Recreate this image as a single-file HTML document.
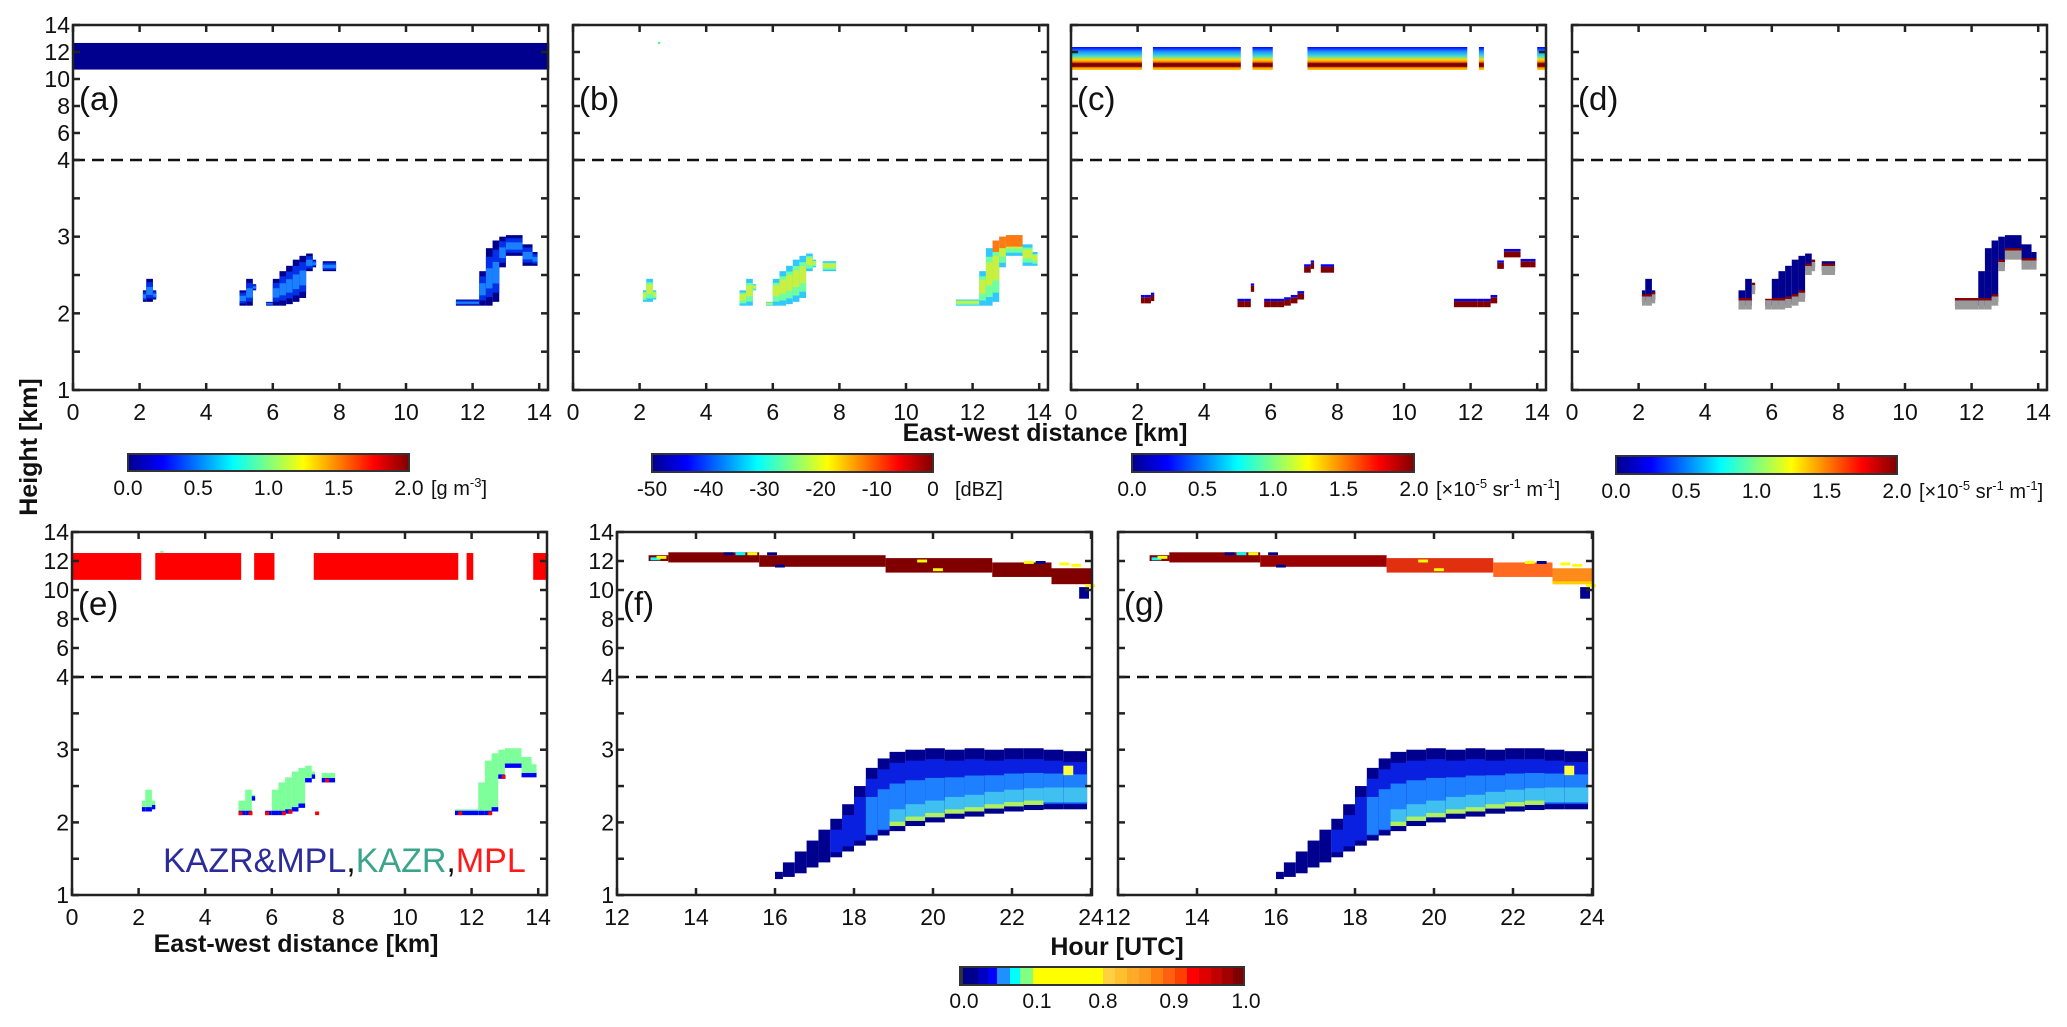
<!DOCTYPE html>
<html><head><meta charset="utf-8">
<style>
html,body{margin:0;padding:0;background:#fff;}
svg{display:block;font-family:"Liberation Sans",Arial,sans-serif;}
</style></head>
<body>
<svg id="fig" width="2067" height="1027" viewBox="0 0 2067 1027" xmlns="http://www.w3.org/2000/svg">
<defs>
<linearGradient id="jet" x1="0" x2="1" y1="0" y2="0">
<stop offset="0" stop-color="#00008f"/><stop offset="0.125" stop-color="#0000ff"/>
<stop offset="0.375" stop-color="#00ffff"/><stop offset="0.625" stop-color="#ffff00"/>
<stop offset="0.875" stop-color="#ff0000"/><stop offset="1" stop-color="#800000"/>
</linearGradient>
<linearGradient id="cband" x1="0" x2="0" y1="0" y2="1">
<stop offset="0" stop-color="#0000ff"/><stop offset="0.2" stop-color="#1e90ff"/>
<stop offset="0.4" stop-color="#40e0d0"/><stop offset="0.55" stop-color="#ffd700"/>
<stop offset="0.65" stop-color="#ff8000"/><stop offset="0.72" stop-color="#800000"/>
<stop offset="0.85" stop-color="#800000"/><stop offset="0.9" stop-color="#ff9000"/>
<stop offset="1" stop-color="#ffd000"/>
</linearGradient>
</defs>
<g id="root"></g>
</svg>
<script>
// ---------- data ----------
const upperTicks = [14, 12, 10, 8, 6, 4];
const lowerTicks = [3, 2, 1];
const lowerMinor = [3.5, 2.5, 1.5];
const kmTicks = [0, 2, 4, 6, 8, 10, 12, 14];
const hourTicks = [12, 14, 16, 18, 20, 22, 24];
// low cloud columns [xStart km, xEnd km, base km, top km]
const cloudX0 = [2.1,2.2,2.4, 5.0,5.2,5.4, 5.8,6.0,6.2,6.4,6.6,6.8,7.0,7.2, 7.5, 11.5,12.2,12.4,12.6,12.8,13.0,13.5,13.8];
const cloudX1 = [2.2,2.4,2.5, 5.2,5.4,5.5, 6.0,6.2,6.4,6.6,6.8,7.0,7.2,7.3, 7.9, 12.2,12.4,12.6,12.8,13.0,13.5,13.8,13.95];
const cloudBase = [2.15,2.15,2.18, 2.1,2.1,2.3, 2.1,2.1,2.1,2.12,2.15,2.2,2.55,2.6, 2.55, 2.1,2.1,2.1,2.15,2.6,2.75,2.62,2.62];
const cloudTop = [2.3,2.45,2.3, 2.3,2.45,2.38, 2.15,2.45,2.55,2.62,2.7,2.75,2.78,2.7, 2.68, 2.18,2.55,2.85,2.95,3.0,3.02,2.9,2.8];
// high cloud segments per panel [x0,x1] km, band heights km
const bandA = [[0, 14.3]];
const bandC = [[0,2.13],[2.46,5.1],[5.45,6.06],[7.1,7.3],[7.27,11.9],[12.25,12.4],[14.0,14.3]];
const bandE = [[0,2.08],[2.5,5.08],[5.47,6.08],[7.26,11.6],[11.85,12.05],[13.85,14.3]];
const bandBaseA = 10.7, bandTopA = 12.67;
const bandBaseC = 10.67, bandTopC = 12.37;
const bandBaseE = 10.7, bandTopE = 12.55;
const eRedX = [5.0,5.3,5.8,6.3,6.5,7.3,7.6,11.6,12.5,12.9];
// time-height low cloud [h0,h1,base,top]
const lowH0 = [16.0,16.2,16.5,16.8,17.1,17.4,17.7,18.0,18.3,18.6,18.9,19.3,19.8,20.3,20.8,21.3,21.8,22.3,22.8,23.3];
const lowH1 = [16.2,16.5,16.8,17.1,17.4,17.7,18.0,18.3,18.6,18.9,19.3,19.8,20.3,20.8,21.3,21.8,22.3,22.8,23.3,23.9];
const lowBase = [1.22,1.25,1.3,1.38,1.45,1.52,1.6,1.68,1.75,1.82,1.88,1.95,2.0,2.05,2.08,2.12,2.15,2.17,2.18,2.18];
const lowTop = [1.32,1.45,1.6,1.75,1.9,2.05,2.25,2.5,2.75,2.88,2.97,3.0,3.02,3.0,3.02,3.0,3.02,3.02,3.0,2.98];
// time-height ice cloud
const iceH0 = [12.8,13.3,15.6,18.8,21.5,23.0];
const iceH1 = [13.3,15.6,18.8,21.5,23.0,24.0];
const iceBase = [12.0,11.9,11.6,11.2,10.9,10.4];
const iceTop = [12.4,12.6,12.4,12.2,11.9,11.5];
const iceColorG = ['#8b0000','#8b0000','#9a0000','#e03010','#ff6a20','#ff8c1a'];
const specksH = [12.85,13.0,14.7,15.0,15.3,15.8,16.0,19.6,20.0,22.3,22.6,23.2,23.5,23.85];
const specksK = [12.25,12.35,12.6,12.6,12.6,12.6,11.75,12.1,11.5,12.0,12.0,11.9,11.8,10.4];
const specksC = ['#00ffff','#ffff00','#00008f','#00ffff','#ffff00','#00008f','#00008f','#ffff00','#ffff00','#ffff00','#00008f','#ffff00','#ffff00','#ffff00'];
// colorbar labels
const cbA = ['0.0','0.5','1.0','1.5','2.0'];
const cbB = ['-50','-40','-30','-20','-10','0'];
const cbF = ['0.0','0.1','0.8','0.9','1.0'];
const cbFColors = ['#333','#00008f','#0000c0','#0000ff','#1e90ff','#00ffff','#80ff80','#ffff00','#ffd040','#ffc030','#ffaa28','#ff9a20','#ff8010','#ff6010','#ff4000','#ff0000','#e00000','#c00000','#a00000','#800000'];
const cbFWidths = [3,15,10,9,13,10,13,70,12,12,12,12,12,12,12,12,12,11,11,11];

// ---------- helpers ----------
const NS = 'http://www.w3.org/2000/svg';
const root = document.getElementById('root');
function el(tag, attrs, parent) {
  const e = document.createElementNS(NS, tag);
  for (const k in attrs) e.setAttribute(k, attrs[k]);
  (parent || root).appendChild(e);
  return e;
}
function txt(s, x, y, size, anchor, parent, extra) {
  const t = el('text', Object.assign({x: x, y: y, 'font-size': size, 'text-anchor': anchor || 'middle', fill: '#111'}, extra || {}), parent);
  t.textContent = s;
  return t;
}

const ROW1 = {top: 25, y4: 160, bottom: 390, up: 13.5, lo: 76.67};
const ROW2 = {top: 532, y4: 677, bottom: 895, up: 14.5, lo: 72.7};
function yScale(row, km) {
  return km >= 4 ? row.top + (14 - km) * row.up : row.y4 + (4 - km) * row.lo;
}

function makePanel(name, x0, row, kind, ylabels, xlabels) {
  const g = el('g', {});
  
  
  const w = 475;
  const xs = kind === 'km' ? (v => x0 + v * 33.3) : (v => x0 + (v - 12) * 39.5);
  const ys = v => yScale(row, v);
  return {g, x0, w, row, kind, xs, ys, ylabels, xlabels, name};
}

function finishPanel(P) {
  const g = P.g, row = P.row, x0 = P.x0, x1 = P.x0 + P.w;
  const dash = el('line', {x1: x0, x2: x1, y1: row.y4, y2: row.y4, stroke: '#111', 'stroke-width': 2.5, 'stroke-dasharray': '12 7'}, g);
  
  
  const fr = el('rect', {x: x0, y: row.top, width: P.w, height: row.bottom - row.top, fill: 'none', stroke: '#222', 'stroke-width': 2.5}, g);
  
  
  const yt = upperTicks.concat(lowerTicks).concat(lowerMinor);
  yt.forEach(v => {
    const y = P.ys(v);
    el('line', {x1: x0, x2: x0 + 7, y1: y, y2: y, stroke: '#222', 'stroke-width': 2.5}, g);
    el('line', {x1: x1 - 7, x2: x1, y1: y, y2: y, stroke: '#222', 'stroke-width': 2.5}, g);
  });
  if (P.ylabels) {
    upperTicks.concat(lowerTicks).forEach(v => {
      const t = txt(String(v), x0 - 3, P.ys(v) + 8, 23, 'end', g);
      
      
    });
  }
  const xt = P.kind === 'km' ? kmTicks : hourTicks;
  xt.forEach(v => {
    const x = P.xs(v);
    el('line', {x1: x, x2: x, y1: row.top, y2: row.top + 7, stroke: '#222', 'stroke-width': 2.5}, g);
    el('line', {x1: x, x2: x, y1: row.bottom - 7, y2: row.bottom, stroke: '#222', 'stroke-width': 2.5}, g);
    if (P.xlabels) {
      const t = txt(String(v), x, row.bottom + 30, 23, 'middle', g);
      
      
    }
  });
  const lab = txt('(' + P.name + ')', x0 + 6, row.top + (row === ROW1 ? 85 : 83), 33, 'start', g);
  
  
}

function rectKm(P, xa, xb, ka, kb, color, parent) {
  const x = P.xs(xa), x2 = P.xs(xb);
  const y1 = P.ys(kb), y2 = P.ys(ka);
  return el('rect', {x: x, y: y1, width: Math.max(1, x2 - x), height: Math.max(1, y2 - y1), fill: color}, parent || P.g);
}

// low clouds with layered colouring
function lowClouds(P, layers, extra) {
  const cg = el('g', {}, P.g);
  
  
  for (let i = 0; i < cloudX0.length; i++) {
    const b = cloudBase[i], t = cloudTop[i], h = t - b;
    layers.forEach(L => {
      const a = L[0] === 'abs' ? b + L[1] : b + h * L[1];
      const c = L[0] === 'abs' ? b + L[2] : b + h * L[2];
      if (c > a) rectKm(P, cloudX0[i], cloudX1[i], a, Math.min(c, t + 0.04), L[3], cg);
    });
    if (extra) extra(i, cg);
  }
}

// ---------- row 1 ----------
const pa = makePanel('a', 73, ROW1, 'km', true, true);
bandA.forEach(s => rectKm(pa, s[0], s[1], bandBaseA, bandTopA, '#00008f'));
lowClouds(pa, [['f',0,1,'#00008f'],['f',0.15,0.85,'#0030e8'],['f',0.3,0.65,'#1a80ff']]);
finishPanel(pa);

const pb = makePanel('b', 573, ROW1, 'km', false, true);
rectKm(pb, 2.55, 2.62, 12.6, 12.75, '#40ff80');
lowClouds(pb, [['f',0,1,'#30c8ff'],['f',0.15,0.85,'#70ffa0'],['f',0.35,0.75,'#c8f040']], (i, cg) => {
  if (cloudTop[i] > 2.9) rectKm(pb, cloudX0[i], cloudX1[i], cloudTop[i] - 0.15, cloudTop[i], '#ff7a10', cg);
});
finishPanel(pb);

const pc = makePanel('c', 1071, ROW1, 'km', false, true);
bandC.forEach(s => {
  const r = rectKm(pc, s[0], s[1], bandBaseC, bandTopC, 'url(#cband)');
  
  
});
lowClouds(pc, [['abs',-0.02,0.06,'#800000'],['abs',0.06,0.09,'#0000ff']]);
finishPanel(pc);

const pd = makePanel('d', 1572, ROW1, 'km', false, true);
lowClouds(pd, [['f',0,1,'#00008f'],['abs',-0.05,0.07,'#999999'],['abs',0.07,0.1,'#8b0000']]);
finishPanel(pd);

// ---------- row 2 ----------
const pe = makePanel('e', 72, ROW2, 'km', true, true);
bandE.forEach(s => rectKm(pe, s[0], s[1], bandBaseE, bandTopE, '#ff0000'));
rectKm(pe, 2.65, 2.75, 12.55, 12.7, '#7dff9a');
lowClouds(pe, [['f',0,1,'#7dff9a'],['abs',0,0.06,'#0000ff']]);
eRedX.forEach(x => {
  const i = cloudX0.findIndex((a, k) => x >= a && x < cloudX1[k]);
  const b = i >= 0 ? cloudBase[i] : 2.1;
  rectKm(pe, x, x + 0.12, b, b + 0.05, '#ff0000');
});
const leg = el('text', {x: 163, y: 872, 'font-size': 34, 'text-anchor': 'start'}, pe.g);


[['KAZR&MPL', '#2b2b9c'], [',', '#111'], ['KAZR', '#3aa58a'], [',', '#111'], ['MPL', '#ff1a1a']].forEach(p => {
  const s = document.createElementNS(NS, 'tspan');
  s.setAttribute('fill', p[1]);
  s.textContent = p[0];
  leg.appendChild(s);
});
finishPanel(pe);

function timePanel(name, x0, gColors) {
  const P = makePanel(name, x0, ROW2, 'hour', name === 'f', true);
  const ig = el('g', {}, P.g);
  
  
  for (let i = 0; i < iceH0.length; i++) {
    rectKm(P, iceH0[i], iceH1[i], iceBase[i], iceTop[i], gColors ? gColors[i] : '#800000', ig);
  }
  if (gColors) rectKm(P, 23.0, 24.0, 10.4, 10.6, '#ffd000', ig);
  rectKm(P, 23.7, 23.95, 9.4, 10.2, '#00008f', ig);
  for (let i = 0; i < specksH.length; i++) {
    rectKm(P, specksH[i], specksH[i] + 0.25, specksK[i] - 0.2, specksK[i], specksC[i], ig);
  }
  const lg = el('g', {}, P.g);
  
  
  for (let i = 0; i < lowH0.length; i++) {
    const b = lowBase[i], t = lowTop[i];
    rectKm(P, lowH0[i], lowH1[i], b, t, '#00008f', lg);
    if (lowH0[i] >= 17.4) rectKm(P, lowH0[i], lowH1[i], b + 0.07, t - 0.15, '#0a20e0', lg);
    if (lowH0[i] >= 18.3) rectKm(P, lowH0[i], lowH1[i], b + 0.08, b + (t - b) * 0.6, '#1e80ff', lg);
    if (lowH0[i] >= 18.9) rectKm(P, lowH0[i], lowH1[i], b + 0.1, b + 0.3, '#40c0f0', lg);
    if (lowH0[i] >= 18.9 && lowH0[i] < 22.8) rectKm(P, lowH0[i], lowH1[i], b + 0.07, b + 0.13, '#b0f060', lg);
  }
  rectKm(P, 23.3, 23.55, 2.65, 2.78, '#ffff40', lg);
  finishPanel(P);
  return P;
}
timePanel('f', 617, null);
timePanel('g', 1118, iceColorG);

// ---------- axis titles ----------
const yt = txt('Height [km]', 0, 0, 25, 'middle', root, {'font-weight': 'bold', transform: 'translate(37,447) rotate(-90)'});


const xt1 = txt('East-west distance [km]', 1045, 441, 25, 'middle', root, {'font-weight': 'bold'});


const xt2 = txt('East-west distance [km]', 296, 952, 25, 'middle', root, {'font-weight': 'bold'});


const xt3 = txt('Hour [UTC]', 1117, 955, 25, 'middle', root, {'font-weight': 'bold'});



// ---------- colorbars ----------
function colorbar(name, x, y, w, h, labels, unit, fill) {
  const g = el('g', {});
  
  
  el('rect', {x: x, y: y, width: w, height: h, fill: fill, stroke: '#333', 'stroke-width': 2}, g);
  labels.forEach((s, i) => {
    const lx = x + w * i / (labels.length - 1);
    const t = txt(s, lx, y + h + 24, 21, 'middle', g);
    
    
  });
  if (unit) {
    const u = el('text', {x: x + w + 22, y: y + h + 24, 'font-size': 20, 'text-anchor': 'start', fill: '#111'}, g);
    
    
    unit.forEach(p => {
      const s = document.createElementNS(NS, 'tspan');
      if (p[1]) s.setAttribute('dy', p[1]);
      s.setAttribute('font-size', p[2] ? 13 : 20);
      s.textContent = p[0];
      u.appendChild(s);
    });
  }
  return g;
}
const uG = [['[g m'], ['-3', -8, 1], [']', 8]];
const uB = [['[×10'], ['-5', -8, 1], [' sr', 8], ['-1', -8, 1], [' m', 8], ['-1', -8, 1], [']', 8]];
colorbar('lwc', 128, 454, 281, 17, cbA, uG, 'url(#jet)');
colorbar('dbz', 652, 454, 281, 18, cbB, [['[dBZ]']], 'url(#jet)');
colorbar('backscatter-c', 1132, 454, 282, 18, cbA, uB, 'url(#jet)');
colorbar('backscatter-d', 1616, 456, 281, 18, cbA, uB, 'url(#jet)');

// discrete bottom colorbar
const cbg = el('g', {});


let cx = 960;
cbFColors.forEach((c, i) => {
  el('rect', {x: cx, y: 967, width: cbFWidths[i] + 0.5, height: 18, fill: c}, cbg);
  cx += cbFWidths[i];
});
el('rect', {x: 960, y: 967, width: 284, height: 18, fill: 'none', stroke: '#333', 'stroke-width': 2}, cbg);
const cbFPos = [964, 1037, 1103, 1174, 1246];
cbF.forEach((s, i) => {
  const t = txt(s, cbFPos[i], 1008, 21, 'middle', cbg);
  
  
});
</script>
</body></html>
